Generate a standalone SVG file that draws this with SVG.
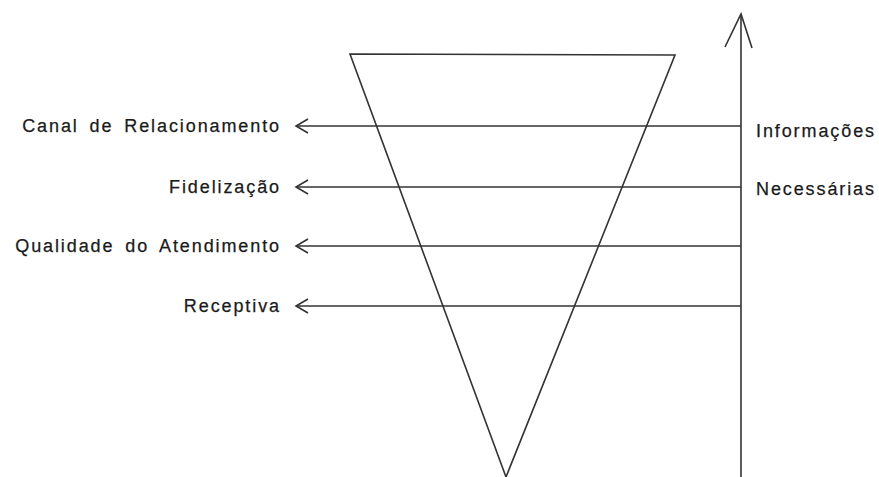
<svg xmlns="http://www.w3.org/2000/svg" width="879" height="477" viewBox="0 0 879 477">
<style>
.ln{stroke:#333;stroke-width:1.6;fill:none}
.lb{font-family:"Liberation Sans",Arial,sans-serif;font-size:18px;fill:#1a1a1a;letter-spacing:1.9px;word-spacing:4px;stroke:#1a1a1a;stroke-width:0.25px}
</style>
<defs>
<marker id="ah" markerUnits="userSpaceOnUse" markerWidth="16" markerHeight="18" refX="13" refY="8" orient="auto">
<path d="M1,1 L13,8 L1,15" stroke="#333" stroke-width="1.6" fill="none"/>
</marker>
</defs>
<rect width="879" height="477" fill="#fff"/>
<g id="funnel"><path class="ln" d="M350,54 L675,55 L506,477 Z"/></g>
<g id="axis"><path class="ln" d="M741,477 L741,15"/><path class="ln" d="M725,47 L741,14 L752,48"/></g>
<g id="connectors">
<line class="ln" x1="741" y1="126" x2="296" y2="126" marker-end="url(#ah)"/>
<line class="ln" x1="741" y1="187" x2="296" y2="187" marker-end="url(#ah)"/>
<line class="ln" x1="741" y1="246" x2="296" y2="246" marker-end="url(#ah)"/>
<line class="ln" x1="741" y1="306" x2="296" y2="306" marker-end="url(#ah)"/>
</g>
<g id="n1"><text class="lb" x="281" y="132" text-anchor="end">Canal de Relacionamento</text></g>
<g id="n2"><text class="lb" x="281" y="193" text-anchor="end">Fidelização</text></g>
<g id="n3"><text class="lb" x="281" y="252" text-anchor="end">Qualidade do Atendimento</text></g>
<g id="n4"><text class="lb" x="281" y="312" text-anchor="end">Receptiva</text></g>
<g id="n5"><text class="lb" x="756" y="137">Informações</text></g>
<g id="n6"><text class="lb" x="756" y="195">Necessárias</text></g>
</svg>
